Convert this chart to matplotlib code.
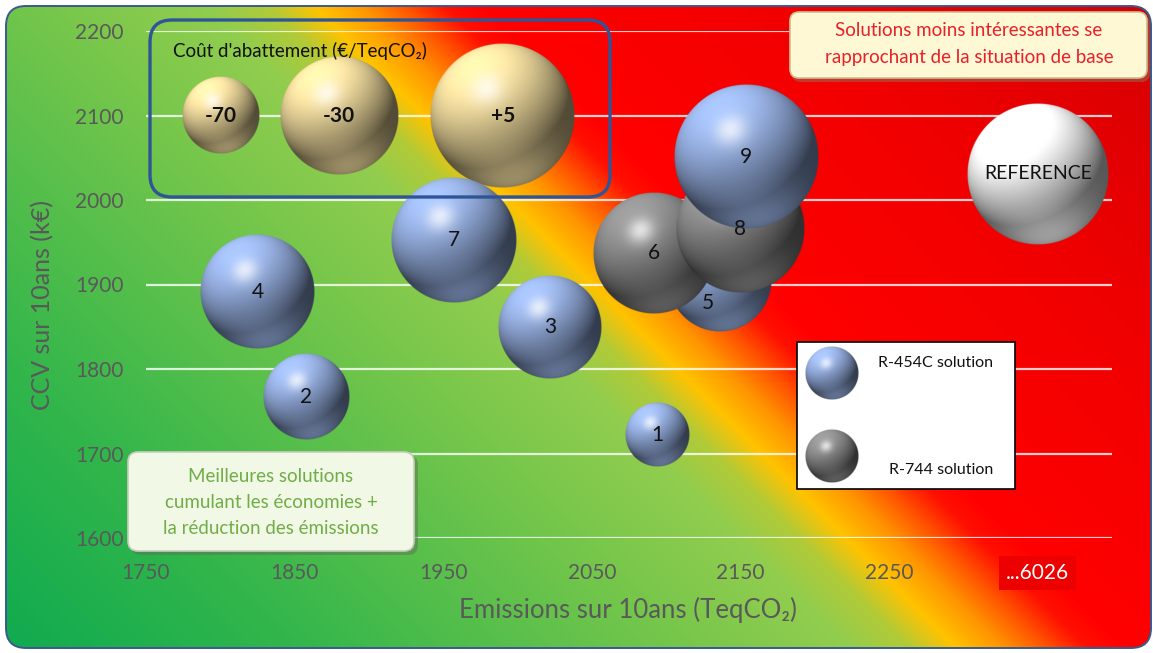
import numpy as np
import matplotlib
matplotlib.use("Agg")
import matplotlib.pyplot as plt
from matplotlib.patches import FancyBboxPatch, Rectangle

# ---------------- data ----------------
solution_ids = ["1", "2", "3", "4", "5", "6", "7", "8", "9"]
emissions = [2094, 1858, 2022, 1825, 2136, 2092, 1957, 2150, 2154]      # TeqCO2 over 10 years
ccv = [1722, 1767, 1850, 1891, 1905, 1937, 1953, 1966, 2051]            # k€ over 10 years
abatement_cost = [-79, -63, -46, -35, -46, -26, -21, -17, 4]            # €/TeqCO2
refrigerant = ["R-454C", "R-454C", "R-454C", "R-454C", "R-454C",
               "R-744", "R-454C", "R-744", "R-454C"]
label_pos_5 = (2128, 1878)   # label of solution 5 moved off the hidden centre

# reference case (emissions 6026 shown on the broken last tick)
ref_label = "REFERENCE"
ref_emissions = 2350
ref_ccv = 2031
ref_cost = 0

# size key for the abatement cost
key_costs = [-70, -30, 5]
key_labels = ["-70", "-30", "+5"]
key_x = [1800, 1880, 1990]
key_y = 2100

x_ticks = [1750, 1850, 1950, 2050, 2150, 2250, 2350]
x_tick_labels = ["1750", "1850", "1950", "2050", "2150", "2250", "...6026"]
y_ticks = [1600, 1700, 1800, 1900, 2000, 2100, 2200]

# ---------------- style ----------------
W, H = 1153, 653
FONT = ["Lato", "DejaVu Sans"]
plt.rcParams["font.family"] = FONT
GREY_TXT = "#595959"
SIZE_OFFSET = 100      # bubble area is proportional to cost + offset
AREA_PX2 = 50.0        # squared pixels per size unit

COLORS = {"R-454C": (143, 167, 214), "R-744": (134, 134, 134),
          "key": (228, 208, 150), "ref": (244, 244, 244)}


def sphere_rgba(base, n):
    lin = np.linspace(-1, 1, n)
    u, v = np.meshgrid(lin, -lin)
    r2 = u ** 2 + v ** 2
    nz = np.sqrt(np.clip(1 - r2, 0, 1))
    L = np.array([-0.40, 0.68, 0.62]); L /= np.linalg.norm(L)
    Hv = L + np.array([0, 0, 1.0]); Hv /= np.linalg.norm(Hv)
    R = np.array([0.15, -0.85, 0.5]); R /= np.linalg.norm(R)
    diff = np.clip(u * L[0] + v * L[1] + nz * L[2], 0, 1)
    spec = np.clip(u * Hv[0] + v * Hv[1] + nz * Hv[2], 0, 1) ** 40
    refl = np.clip(u * R[0] + v * R[1] + nz * R[2], 0, 1) ** 4
    b = np.array(base, dtype=float) / 255.0
    col = b[None, None, :] * (0.36 + 0.85 * diff[..., None])
    col += (np.minimum(b * 1.12, 1) - col) * (0.42 * refl[..., None])
    col += (1 - col) * (0.72 * spec[..., None])
    alpha = np.clip((1 - np.sqrt(r2)) * n / 2.5, 0, 1)
    return np.dstack([np.clip(col, 0, 1), alpha])


def radius_px(cost):
    return np.sqrt(AREA_PX2 * (cost + SIZE_OFFSET))


fig = plt.figure(figsize=(W / 100, H / 100), dpi=100)

# ---------------- gradient chart area ----------------
bg = fig.add_axes([0, 0, 1, 1])
bg.set_xlim(0, W); bg.set_ylim(H, 0); bg.axis("off")
xx, yy = np.meshgrid(np.arange(W) + 0.5, np.arange(H) + 0.5)
t = xx - yy
stops = [(-653, (15, 170, 80)), (-350, (50, 182, 75)), (0, (112, 197, 75)),
         (200, (145, 205, 78)), (262, (178, 202, 55)), (308, (255, 195, 0)),
         (355, (255, 150, 0)), (398, (255, 85, 0)), (440, (255, 15, 0)),
         (480, (255, 0, 0)), (800, (240, 0, 0)), (1153, (212, 0, 5))]
st = np.array([s[0] for s in stops], float)
sc = np.array([s[1] for s in stops], float) / 255.0
grad = np.dstack([np.interp(t, st, sc[:, k]) for k in range(3)])
im = bg.imshow(grad, extent=(0, W, H, 0), origin="upper", interpolation="bilinear")
frame = FancyBboxPatch((6, 6), 1145, 642, boxstyle="round,pad=0,rounding_size=20",
                       facecolor="none", edgecolor="#3A5A8C", lw=1.4)
bg.add_patch(frame)
im.set_clip_path(frame)

# ---------------- main plot ----------------
left, right, top, bottom = 146, 1112, 31, 538
ax = fig.add_axes([left / W, 1 - bottom / H, (right - left) / W, (bottom - top) / H])
ax.set_facecolor("none")
ax.set_xlim(1750, 2400)
ax.set_ylim(1600, 2200)
ax.set_autoscale_on(False)
for s in ax.spines.values():
    s.set_visible(False)
ax.set_xticks(x_ticks)
ax.set_xticklabels(x_tick_labels)
ax.set_yticks(y_ticks)
ax.tick_params(length=0, labelsize=15, labelcolor=GREY_TXT)
ax.tick_params(axis="x", pad=18)
ax.tick_params(axis="y", pad=16)
ax.grid(axis="y", color="white", alpha=0.8, lw=1.6)
ax.set_axisbelow(True)
last = ax.get_xticklabels()[-1]
last.set_color("white")
last.set_bbox(dict(facecolor="#EC0000", edgecolor="none", pad=5))

px_x = (right - left) / (2400 - 1750)
px_y = (bottom - top) / (2200 - 1600)


def draw_sphere(x, y, cost, base, z):
    r = radius_px(cost)
    n = max(96, int(r * 4))
    dx, dy = r / px_x, r / px_y
    ax.imshow(sphere_rgba(base, n), extent=(x - dx, x + dx, y - dy, y + dy),
              origin="upper", aspect="auto", interpolation="antialiased",
              zorder=z, clip_on=False)


for i, (x, y, c, ref) in enumerate(zip(emissions, ccv, abatement_cost, refrigerant)):
    draw_sphere(x, y, c, COLORS[ref], 3 + i)
    lx, ly = (label_pos_5 if solution_ids[i] == "5" else (x, y))
    ax.text(lx, ly, solution_ids[i], ha="center", va="center", fontsize=15,
            color="#111111", zorder=50)

draw_sphere(ref_emissions, ref_ccv, ref_cost, COLORS["ref"], 3)
ax.text(ref_emissions, ref_ccv, ref_label, ha="center", va="center", fontsize=14,
        color="#111111", zorder=50)

for kx, kc, kl in zip(key_x, key_costs, key_labels):
    draw_sphere(kx, key_y, kc, COLORS["key"], 3)
    ax.text(kx, key_y, kl, ha="center", va="center", fontsize=15,
            fontweight="bold", color="#111111", zorder=50)

ax.set_xlim(1750, 2400)
ax.set_ylim(1600, 2200)

# ---------------- overlay: boxes, legend, titles ----------------
ov = fig.add_axes([0, 0, 1, 1])
ov.set_xlim(0, W); ov.set_ylim(H, 0); ov.axis("off")
ov.set_zorder(5)
ov.patch.set_alpha(0)

ov.text(628, 610, "Emissions sur 10ans (TeqCO₂)", ha="center", va="center",
        fontsize=18.5, color=GREY_TXT)
ov.text(43, 305, "CCV sur 10ans (k€)", ha="center", va="center", rotation=90,
        fontsize=18, color=GREY_TXT)

# key frame for abatement cost
ov.add_patch(FancyBboxPatch((150, 20), 460, 177, boxstyle="round,pad=0,rounding_size=22",
                            facecolor="none", edgecolor="#2F5597", lw=2.4))
ov.text(173, 51, "Coût d'abattement (€/TeqCO₂)", ha="left", va="center",
        fontsize=13.5, color="#111111")

# upper-right note
ov.add_patch(FancyBboxPatch((792, 15), 358, 67, boxstyle="round,pad=0,rounding_size=9",
                            facecolor="#8A8060", edgecolor="none", alpha=0.45))
ov.add_patch(FancyBboxPatch((790, 12), 357, 66, boxstyle="round,pad=0,rounding_size=9",
                            facecolor="#FFF8D4", edgecolor="#C9BF92", lw=1.2))
ov.text(969, 31, "Solutions moins intéressantes se", ha="center", va="center",
        fontsize=13.5, color="#E8202A")
ov.text(969, 57, "rapprochant de la situation de base", ha="center", va="center",
        fontsize=13.5, color="#E8202A")

# lower-left note
ov.add_patch(FancyBboxPatch((131, 455), 287, 100, boxstyle="round,pad=0,rounding_size=10",
                            facecolor="#5F6A55", edgecolor="none", alpha=0.45))
ov.add_patch(FancyBboxPatch((128, 452), 286, 99, boxstyle="round,pad=0,rounding_size=10",
                            facecolor="#F1F8E6", edgecolor="#C8CCBE", lw=1.2))
for yy_, line in zip([477, 503, 529], ["Meilleures solutions",
                                         "cumulant les économies +",
                                         "la réduction des émissions"]):
    ov.text(271, yy_, line, ha="center", va="center", fontsize=13.5, color="#70AD47")

# refrigerant legend
ov.add_patch(Rectangle((797, 342), 218, 147, facecolor="white", edgecolor="black", lw=1.2))
for cy, key, txt, ty in [(373, "R-454C", "R-454C solution", 363),
                         (456, "R-744", "R-744 solution", 470)]:
    ov.imshow(sphere_rgba(COLORS[key], 120), extent=(805, 859, cy + 27, cy - 27),
              origin="upper", aspect="auto", interpolation="antialiased", zorder=3)
    ov.text(993, ty, txt, ha="right", va="center", fontsize=11.5, color="#111111", zorder=4)
ov.set_xlim(0, W); ov.set_ylim(H, 0)

fig.savefig("out.png", dpi=100)
